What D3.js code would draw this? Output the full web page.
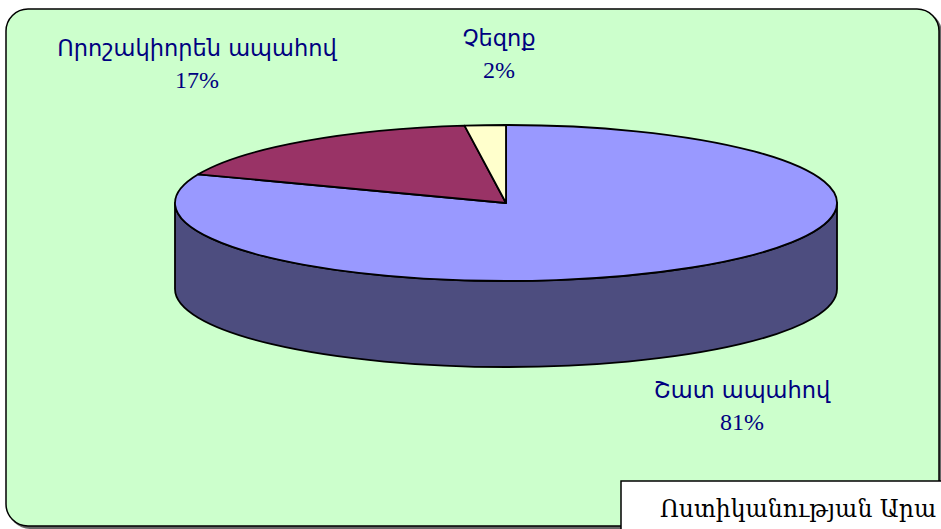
<!DOCTYPE html>
<html>
<head>
<meta charset="utf-8">
<script src="https://cdn.jsdelivr.net/npm/d3@7"></script>
<style>
  body { margin: 0; background: #fff; }
  svg { display: block; }
</style>
</head>
<body>
<script>
// data
var categories = ["Շատ ապահով", "Որոշակիորեն ապահով", "Չեզոք"];
var values = [81, 17, 2];
var pctLabels = ["81%", "17%", "2%"];

var topColors = ["#9999ff", "#993366", "#ffffcc"];
var sideColors = ["#4d4d7f", "#5c1f3d", "#99997a"];
// label anchor (centre x, first baseline y) per category
var labelPos = [[742, 398], [197, 56], [499, 46]];

var width = 941, height = 529;
var cx = 506, cy = 203, rx = 331, ry = 78, depth = 86;

var svg = d3.select("body").append("svg")
    .attr("width", width)
    .attr("height", height);

// chart area background
svg.append("rect")
    .attr("x", 8).attr("y", 11)
    .attr("width", 934).attr("height", 518)
    .attr("rx", 22).attr("ry", 22)
    .style("fill", "#666");
svg.append("rect")
    .attr("x", 6).attr("y", 9)
    .attr("width", 933).attr("height", 517)
    .attr("rx", 22).attr("ry", 22)
    .style("fill", "#ccffcc")
    .style("stroke", "#000")
    .style("stroke-width", 1.5);

var pie = d3.pie().sort(null).value(function(d) { return d; });
var arcs = pie(values);

function pt(a, dy) {
  return [cx + rx * Math.sin(a), cy - ry * Math.cos(a) + (dy || 0)];
}

var g = svg.append("g");

// side walls (front half only: angles between PI/2 and 3PI/2)
arcs.forEach(function(d, i) {
  var b0 = Math.max(d.startAngle, Math.PI / 2),
      b1 = Math.min(d.endAngle, 3 * Math.PI / 2);
  if (b1 <= b0) return;
  var p0 = pt(b0), p1 = pt(b1), q0 = pt(b0, depth), q1 = pt(b1, depth);
  var large = (b1 - b0) > Math.PI ? 1 : 0;
  var path = "M" + p0 + "A" + rx + "," + ry + " 0 " + large + " 1 " + p1 +
      "L" + q1 + "A" + rx + "," + ry + " 0 " + large + " 0 " + q0 + "Z";
  g.append("path")
      .attr("d", path)
      .style("fill", sideColors[i])
      .style("stroke", "#000")
      .style("stroke-width", 1.8)
      .style("stroke-linejoin", "round");
});

// top faces
arcs.forEach(function(d, i) {
  var p0 = pt(d.startAngle), p1 = pt(d.endAngle);
  var large = (d.endAngle - d.startAngle) > Math.PI ? 1 : 0;
  var path = "M" + cx + "," + cy + "L" + p0 +
      "A" + rx + "," + ry + " 0 " + large + " 1 " + p1 + "Z";
  g.append("path")
      .attr("d", path)
      .style("fill", topColors[i])
      .style("stroke", "#000")
      .style("stroke-width", 1.8)
      .style("stroke-linejoin", "round");
});

// labels
var labels = svg.selectAll(".label")
    .data(arcs)
  .enter().append("g")
    .attr("class", "label")
    .attr("transform", function(d, i) { return "translate(" + labelPos[i] + ")"; });

labels.append("text")
    .attr("text-anchor", "middle")
    .style("font-family", "'DejaVu Sans', sans-serif")
    .style("font-size", "22.5px")
    .style("fill", "#000080")
    .text(function(d, i) { return categories[i]; });

labels.append("text")
    .attr("y", 32)
    .attr("text-anchor", "middle")
    .style("font-family", "'Liberation Serif', serif")
    .style("font-size", "24px")
    .style("fill", "#000080")
    .text(function(d, i) { return pctLabels[i]; });

// source box, bottom right
svg.append("rect")
    .attr("x", 621).attr("y", 481)
    .attr("width", 340).attr("height", 60)
    .style("fill", "#fff")
    .style("stroke", "#000")
    .style("stroke-width", 1.5);

svg.append("text")
    .attr("x", 660).attr("y", 517)
    .style("font-family", "'DejaVu Serif', serif")
    .style("font-size", "23.5px")
    .style("fill", "#000")
    .text("Ոստիկանության Արա");
</script>
</body>
</html>
